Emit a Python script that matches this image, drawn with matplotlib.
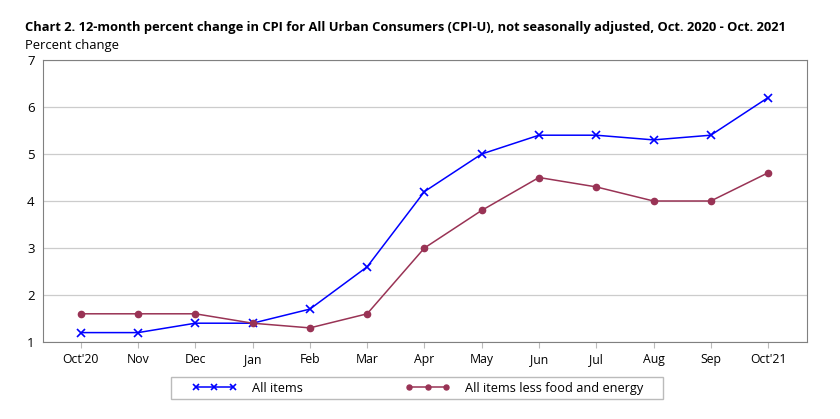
import matplotlib
matplotlib.use("Agg")
import matplotlib.pyplot as plt
from matplotlib.patches import Rectangle

# Data
months = ["Oct'20", "Nov", "Dec", "Jan", "Feb", "Mar", "Apr",
          "May", "Jun", "Jul", "Aug", "Sep", "Oct'21"]
all_items = [1.2, 1.2, 1.4, 1.4, 1.7, 2.6, 4.2, 5.0, 5.4, 5.4, 5.3, 5.4, 6.2]
core_items = [1.6, 1.6, 1.6, 1.4, 1.3, 1.6, 3.0, 3.8, 4.5, 4.3, 4.0, 4.0, 4.6]
y_ticks = [1, 2, 3, 4, 5, 6, 7]

plt.rcParams["font.family"] = ["Open Sans", "DejaVu Sans"]

fig = plt.figure(figsize=(8.4, 4.19), dpi=100)
ax = fig.add_axes([43 / 840, 1 - 342 / 419, (807 - 43) / 840, (342 - 60) / 419])

x = list(range(len(months)))
ax.plot(x, all_items, color="#0000ff", marker="x", markersize=6,
        markeredgewidth=1.2, linewidth=1.1, label="All items")
ax.plot(x, core_items, color="#993355", marker="o", markersize=4.5,
        linewidth=1.1, label="All items less food and energy")

ax.set_xlim(-0.66, 12.68)
ax.set_ylim(1, 7)
ax.set_yticks(y_ticks)
ax.set_xticks(x)
ax.set_xticklabels(months, fontsize=8.8)
ax.tick_params(axis="y", length=0, labelsize=9.5, pad=6)
ax.tick_params(axis="x", length=4, color="#bbbbbb", pad=4)
ax.grid(axis="y", color="#cccccc", linewidth=0.9)
ax.set_axisbelow(True)
for s in ax.spines.values():
    s.set_color("#808080")

fig.text(25 / 840, 1 - 28 / 419, "Chart 2. 12-month percent change in CPI for All Urban Consumers (CPI-U), not seasonally adjusted, Oct. 2020 - Oct. 2021",
         fontsize=9.3, fontweight="bold", va="center", ha="left")
fig.text(25 / 840, 1 - 45 / 419, "Percent change", fontsize=9.4, va="center", ha="left")

# legend frame drawn separately, legend itself without frame
fig.patches.append(Rectangle((171 / 840, 1 - 399 / 419), (663 - 171) / 840, 22 / 419,
                             transform=fig.transFigure, fill=False,
                             edgecolor="#bbbbbb", linewidth=1.0))
leg = fig.legend(loc="center left", bbox_to_anchor=(192 / 840, 1 - 388 / 419),
                 ncol=2, frameon=False, fontsize=9.2, markerscale=0.8,
                 numpoints=3, handlelength=3.5, handletextpad=1.2,
                 columnspacing=8.0, borderpad=0, borderaxespad=0)

fig.savefig("out.png", dpi=100)
plt.close(fig)
